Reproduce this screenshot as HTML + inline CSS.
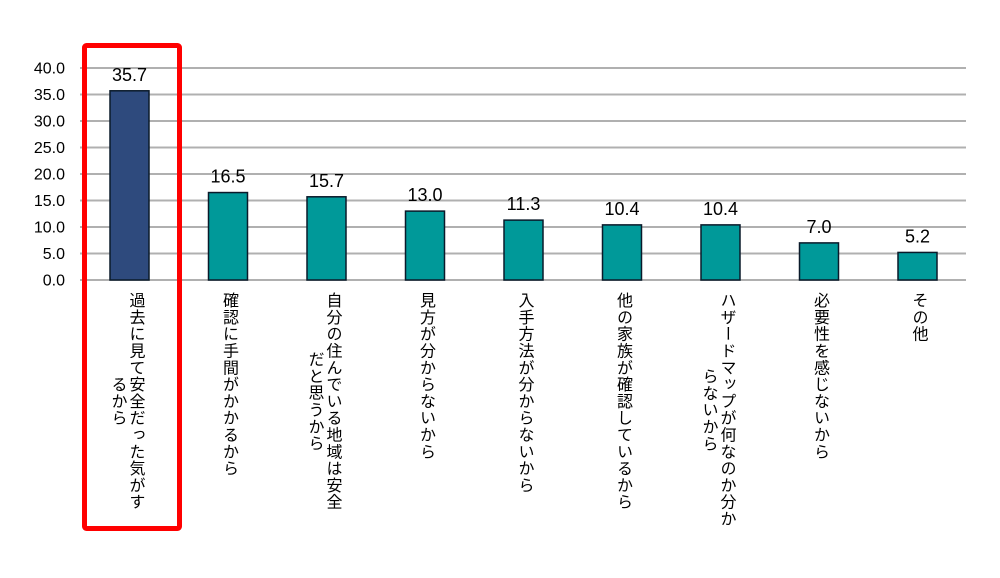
<!DOCTYPE html>
<html><head><meta charset="utf-8">
<style>
body{margin:0;background:#fff;}
#wrap{position:relative;width:1000px;height:578px;overflow:hidden;font-family:"Liberation Sans","Noto Sans CJK JP",sans-serif;}
.lbl{position:absolute;top:292px;writing-mode:vertical-rl;text-orientation:upright;font-size:16px;line-height:18px;color:#000;white-space:pre;letter-spacing:0.8px;text-align:center;}
</style></head><body>
<div id="wrap">
<svg id="svg" width="1000" height="578"></svg>
</div>
<script>
const categories=["過去に見て安全だった気がす\nるから","確認に手間がかかるから","自分の住んでいる地域は安全\nだと思うから","見方が分からないから","入手方法が分からないから","他の家族が確認しているから","ハザードマップが何なのか分か\nらないから","必要性を感じないから","その他"];
const values=[35.7,16.5,15.7,13.0,11.3,10.4,10.4,7.0,5.2];
const ticks=[0,5,10,15,20,25,30,35,40];
const NS="http://www.w3.org/2000/svg";
const svg=document.getElementById('svg');
const wrap=document.getElementById('wrap');
const y0=280,yTop=68,yMax=40;
function ys(v){return y0-(v/yMax)*(y0-yTop);}
function xs(i){return 129.5+i*98.5;}
function mk(t,a){const e=document.createElementNS(NS,t);for(const k in a)e.setAttribute(k,a[k]);svg.appendChild(e);return e;}
ticks.forEach(t=>{
  const l=mk('line',{x1:80,x2:966,y1:ys(t),y2:ys(t),stroke:'#b0b0b0','stroke-width':2});
  
  
  const tx=mk('text',{x:65,y:ys(t)+5.5,'text-anchor':'end','font-size':16,fill:'#000','font-family':'Liberation Sans, sans-serif'});
  tx.textContent=t.toFixed(1);
  
  
});
values.forEach((v,i)=>{
  const r=mk('rect',{x:xs(i)-19.5,y:ys(v),width:39,height:y0-ys(v),fill:i===0?'#2e4a7d':'#009999',stroke:'#0a1a2a','stroke-width':1.5});
  
  
  const t=mk('text',{x:xs(i),y:ys(v)-10,'text-anchor':'middle','font-size':18,fill:'#000','font-family':'Liberation Sans, sans-serif'});
  t.textContent=v.toFixed(1);
  
  
  const d=document.createElement('div');
  d.className='lbl';
  d.textContent=categories[i];
  const two=categories[i].indexOf('\n')>=0;
  d.style.left=(two? xs(i)-22 : xs(i)-9)+'px';
  
  
  wrap.appendChild(d);
});
const hl=mk('rect',{x:84.5,y:45.5,width:95,height:483,fill:'none',stroke:'#ff0000','stroke-width':5,rx:2});


</script>
</body></html>
